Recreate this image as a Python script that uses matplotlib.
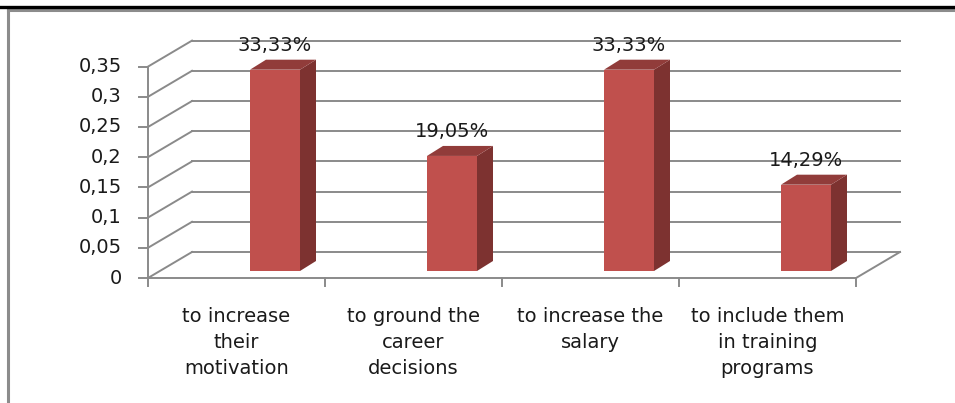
import matplotlib
matplotlib.use("Agg")
import matplotlib.pyplot as plt
from matplotlib.patches import Polygon, Rectangle
from matplotlib.lines import Line2D

plt.rcParams['font.family'] = ['DejaVu Sans']

categories = ["to increase\ntheir\nmotivation",
              "to ground the\ncareer\ndecisions",
              "to increase the\nsalary",
              "to include them\nin training\nprograms"]
values = [0.3333, 0.1905, 0.3333, 0.1429]
value_labels = ["33,33%", "19,05%", "33,33%", "14,29%"]
yticks = [0, 0.05, 0.1, 0.15, 0.2, 0.25, 0.3, 0.35]
ytick_labels = ["0", "0,05", "0,1", "0,15", "0,2", "0,25", "0,3", "0,35"]

W, H = 955, 403
fig = plt.figure(figsize=(W / 100, H / 100), dpi=100)
ax = fig.add_axes([0, 0, 1, 1])

# pixel mapping: x_px = 148 + 177*x ; y_px = 278 - 604*v
X0, SX = 148, 177
Y0, SY = 278, 604
ax.set_xlim(-X0 / SX, (W - X0) / SX)
ax.set_ylim((Y0 - H) / SY, Y0 / SY)
ax.axis('off')

n = len(categories)
DX, DY = 44 / SX, 26 / SY          # depth of the 3D box
grid_c = '#8a8a8a'
lw = 1.4
txt_c = '#1a1a1a'
fs = 14

# back wall gridlines and side wall diagonals
for v, lab in zip(yticks, ytick_labels):
    ax.add_line(Line2D([DX, n + DX], [v + DY, v + DY], color=grid_c, lw=lw))
    ax.add_line(Line2D([0, DX], [v, v + DY], color=grid_c, lw=lw))
    ax.add_line(Line2D([-9 / SX, 0], [v, v], color=grid_c, lw=lw))
    ax.text(-26 / SX, v, lab, ha='right', va='center', fontsize=fs, color=txt_c)

# front vertical axis
ax.add_line(Line2D([0, 0], [0, yticks[-1]], color=grid_c, lw=lw))
# floor front and right edge
ax.add_line(Line2D([0, n], [0, 0], color=grid_c, lw=lw))
ax.add_line(Line2D([n, n + DX], [0, DY], color=grid_c, lw=lw))
# category ticks
for i in range(n + 1):
    ax.add_line(Line2D([i, i], [0, -8 / SY], color=grid_c, lw=lw))

# category labels
for i, c in enumerate(categories):
    ax.text(i + 0.5, -29 / SY, c, ha='center', va='top', fontsize=fs,
            color=txt_c, linespacing=1.45)

# bars
BX = 102 / SX
BW = 50 / SX
BDY = 7 / SY
ddx, ddy = 16 / SX, 10 / SY
front_c, side_c, top_c = '#C0504D', '#7D3230', '#913C3A'
for i, v in enumerate(values):
    x0 = i + BX
    x1 = x0 + BW
    b = BDY
    t = BDY + v
    ax.add_patch(Rectangle((x0, b), BW, v, facecolor=front_c, edgecolor='none', zorder=3))
    ax.add_patch(Polygon([(x1, b), (x1 + ddx, b + ddy), (x1 + ddx, t + ddy), (x1, t)],
                         closed=True, facecolor=side_c, edgecolor='none', zorder=3))
    ax.add_patch(Polygon([(x0, t), (x1, t), (x1 + ddx, t + ddy), (x0 + ddx, t + ddy)],
                         closed=True, facecolor=top_c, edgecolor='none', zorder=3))
    ax.text(x0 + BW / 2, t + ddy + 5 / SY, value_labels[i], ha='center', va='bottom',
            fontsize=fs, color=txt_c, zorder=4)

# outer chart frame (extends beyond right and bottom)
tr = fig.transFigure
fig.add_artist(Line2D([8 / W, 8 / W], [0, 1 - 10 / H], transform=tr, color='#8c8c8c', lw=2.2))
fig.add_artist(Line2D([8 / W, 1], [1 - 10 / H, 1 - 10 / H], transform=tr, color='#8c8c8c', lw=2.2))
# thick black rule at top
fig.add_artist(Line2D([0, 1], [1 - 7 / H, 1 - 7 / H], transform=tr, color='black', lw=2.4))

fig.savefig('out.png', dpi=100)
